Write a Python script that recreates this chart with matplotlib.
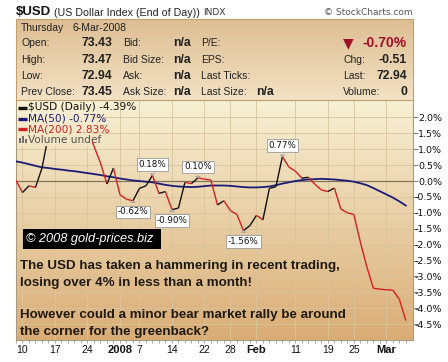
import numpy as np
import matplotlib.pyplot as plt
from matplotlib.collections import LineCollection
from matplotlib.patches import Rectangle

# trading-day index, 0 = 10-Dec-2007, 59 = 6-Mar-2008
days = list(range(-1, 60))
usd = [0.02, -0.36, -0.15, -0.20, 0.41, 1.45, 1.85, 1.70, 2.05, 1.90,
       1.80, 1.60, 1.10, 0.57, -0.09, 0.41, -0.43, -0.57, -0.62, -0.23,
       -0.15, 0.18, -0.39, -0.33, -0.90, -0.85, -0.04, -0.08, 0.10, 0.06,
       0.03, -0.75, -0.62, -0.93, -1.05, -1.56, -1.40, -1.08, -1.22, -0.23,
       -0.18, 0.77, 0.44, 0.31, 0.09, 0.12, -0.10, -0.28, -0.33, -0.22,
       -0.88, -1.00, -1.05, -1.92, -2.70, -3.37, -3.40, -3.42, -3.43, -3.72,
       -4.39]
ma50 = [0.62, 0.58, 0.53, 0.48, 0.43, 0.41, 0.38, 0.36, 0.33, 0.31,
        0.28, 0.25, 0.22, 0.19, 0.15, 0.12, 0.08, 0.05, 0.02, 0.00,
        -0.02, -0.04, -0.08, -0.12, -0.15, -0.17, -0.18, -0.19, -0.18, -0.16,
        -0.14, -0.14, -0.14, -0.15, -0.17, -0.19, -0.20, -0.20, -0.19, -0.17,
        -0.13, -0.08, -0.04, 0.00, 0.03, 0.05, 0.06, 0.07, 0.06, 0.05,
        0.03, 0.01, -0.02, -0.07, -0.13, -0.22, -0.32, -0.42, -0.52, -0.64,
        -0.77]
ma200_last = 2.83

tick_pos = [0, 5, 10, 15, 18, 23, 28, 32, 36, 42, 47, 51, 56]
tick_lab = ['10', '17', '24', '2008', '7', '14', '22', '28', 'Feb', '11', '19', '25', 'Mar']
bold_lab = ['2008', 'Feb', 'Mar']
y_ticks = [2.0, 1.5, 1.0, 0.5, 0.0, -0.5, -1.0, -1.5, -2.0, -2.5, -3.0, -3.5, -4.0, -4.5]
callouts = [17, 20, 23, 27, 34, 40]

quote_day = 'Thursday'
quote_date = '6-Mar-2008'
ohlc_labels = ['Open:', 'High:', 'Low:', 'Prev Close:']
ohlc_values = [73.43, 73.47, 72.94, 73.45]
bid_labels = ['Bid:', 'Bid Size:', 'Ask:', 'Ask Size:']
bid_values = ['n/a', 'n/a', 'n/a', 'n/a']
misc_labels = ['P/E:', 'EPS:', 'Last Ticks:', 'Last Size:']
misc_values = ['', '', '', 'n/a']
pct_chg = -0.70
side_labels = ['Chg:', 'Last:', 'Volume:']
side_values = ['-0.51', '72.94', '0']

comment = ['The USD has taken a hammering in recent trading,',
           'losing over 4% in less than a month!',
           '',
           'However could a minor bear market rally be around',
           'the corner for the greenback?']

W, H = 448, 362
fig = plt.figure(figsize=(W / 100, H / 100), dpi=100)
fig.patch.set_facecolor('white')


def box(x0, y0, x1, y1):
    return [x0 / W, 1 - y1 / H, (x1 - x0) / W, (y1 - y0) / H]


def vgrad(top, bottom, n=256):
    t = np.linspace(0, 1, n).reshape(-1, 1, 1)
    top = np.array(top).reshape(1, 1, 3)
    bottom = np.array(bottom).reshape(1, 1, 3)
    return top + (bottom - top) * t


# ---- price panel
PX0, PY0, PX1, PY1 = 16, 100, 413, 340
ax = fig.add_axes(box(PX0, PY0, PX1, PY1))
xl = (-0.92, 60.1)
yl = (-5.0, 2.55)
bg = vgrad((0.972, 0.945, 0.835), (0.855, 0.675, 0.46))
ax.imshow(bg, extent=[xl[0], xl[1], yl[0], yl[1]], aspect='auto', origin='upper', zorder=0)

segs = [[(days[k], usd[k]), (days[k + 1], usd[k + 1])] for k in range(len(days) - 1)]
cols = ['#111111' if usd[k + 1] >= usd[k] else '#d42020' for k in range(len(days) - 1)]
ax.add_collection(LineCollection(segs, colors=cols, linewidths=1.0, zorder=3))
ax.plot(days, ma50, color='#1c1c78', lw=1.3, zorder=2.8)
ax.axhline(0, color='#857558', lw=0.9, zorder=2)

# legend area hides the lines under it
cover = ax.imshow(bg, extent=[xl[0], xl[1], yl[0], yl[1]], aspect='auto', origin='upper', zorder=4)
cover.set_clip_path(Rectangle(((16 - PX0) / 397, (PY1 - 146) / 240), (91 - PX0) / 397, (146 - PY0) / 240,
                              transform=ax.transAxes))

for d in callouts:
    v = usd[days.index(d)]
    up = v > usd[days.index(d) - 1]
    ax.annotate(f'{v:.2f}%', xy=(d, v), xytext=(0, 11 if up else -11), textcoords='offset pixels',
                ha='center', va='center', fontsize=6.3, color='#111111', zorder=6,
                bbox=dict(boxstyle='square,pad=0.2', fc='white', ec='#999999', lw=0.6),
                arrowprops=dict(arrowstyle='wedge,tail_width=0.5,shrink_factor=0.5',
                                fc='white', ec='#999999', lw=0.6, shrinkB=1.5))

ax.set_xlim(*xl)
ax.set_ylim(*yl)
ax.set_xticks(tick_pos)
ax.set_xticklabels(tick_lab)
for lbl in ax.get_xticklabels():
    lbl.set_family('Liberation Sans')
    if lbl.get_text() in bold_lab:
        lbl.set_fontweight('bold')
        lbl.set_fontsize(8)
    else:
        lbl.set_fontsize(7.5)
ax.set_xticks(days, minor=True)
ax.tick_params(axis='x', which='both', length=2, width=0.5, color='#888888', pad=1.5, labelcolor='#111111')
ax.yaxis.tick_right()
ax.set_yticks(y_ticks)
ax.set_yticklabels([f'{t:.1f}%' for t in y_ticks])
ax.tick_params(axis='y', length=3.5, width=0.6, color='#666666', labelsize=6.8, pad=17.4, labelcolor='#111111')
for lbl in ax.get_yticklabels():
    lbl.set_horizontalalignment('right')
ax.grid(True, which='major', color='#d9c59c', lw=0.6)
for s in ax.spines.values():
    s.set_color('#a89a7c')
    s.set_linewidth(0.8)

# ---- overlay in pixel coordinates
ov = fig.add_axes([0, 0, 1, 1])
ov.patch.set_alpha(0)
ov.axis('off')

sans = 'Liberation Sans'
ov.text(16, 12, '$USD', fontsize=9.5, fontweight='bold', family=sans, va='center', color='#111111')
ov.text(53.5, 12.5, '(US Dollar Index (End of Day))', fontsize=7.7, family=sans, va='center', color='#222222')
ov.text(203, 12.5, 'INDX', fontsize=6.5, va='center', color='#333333')
ov.text(413, 12.5, '\u00a9 StockCharts.com', fontsize=6.5, va='center', ha='right', color='#555555')

info = vgrad((0.87, 0.745, 0.575), (0.95, 0.885, 0.77))
ov.imshow(info, extent=[16, 413, 100, 19], aspect='auto', origin='upper', zorder=0)
ov.add_patch(Rectangle((16, 19), 397, 81, fill=False, ec='#c2a070', lw=0.8, zorder=1))

ov.text(21, 28, quote_day, fontsize=7.5, family=sans, va='center', color='#222222')
ov.text(72.5, 28, quote_date, fontsize=7.5, family=sans, va='center', color='#222222')
rows = [43.3, 60.3, 76.3, 91.7]
for k, y in enumerate(rows):
    ov.text(21, y, ohlc_labels[k], fontsize=7.5, family=sans, va='center', color='#222222')
    ov.text(112, y, f'{ohlc_values[k]:.2f}', fontsize=8.8, fontweight='bold', family=sans,
            va='center', ha='right', color='#222222')
    ov.text(123, y, bid_labels[k], fontsize=7.5, family=sans, va='center', color='#222222')
    ov.text(191, y, bid_values[k], fontsize=8.8, fontweight='bold', family=sans,
            va='center', ha='right', color='#222222')
    ov.text(201, y, misc_labels[k], fontsize=7.5, family=sans, va='center', color='#222222')
    if misc_values[k]:
        ov.text(256, y, misc_values[k], fontsize=8.8, fontweight='bold', family=sans,
                va='center', color='#222222')
ov.text(343, rows[0], '\u25bc', fontsize=10, va='center', color='#a01028')
ov.text(407, rows[0], f'{pct_chg:.2f}%', fontsize=10, fontweight='bold', family=sans,
        va='center', ha='right', color='#a01028')
for k in range(3):
    ov.text(343, rows[k + 1], side_labels[k], fontsize=7.5, family=sans, va='center', color='#222222')
    ov.text(407, rows[k + 1], side_values[k], fontsize=8.8, fontweight='bold', family=sans,
            va='center', ha='right', color='#222222')

# legend
leg = [(f'$USD (Daily) {usd[-1]:.2f}%', '#111111', 107.5),
       (f'MA(50) {ma50[-1]:.2f}%', '#1c1c78', 118.5),
       (f'MA(200) {ma200_last:.2f}%', '#d42020', 129.3)]
for txt, c, y in leg:
    ov.plot([18, 27], [y, y], color=c, lw=2.4, solid_capstyle='butt')
    ov.text(28, y, txt, fontsize=7.6, va='center', color=c)
for bx, bh in [(19, 5), (22, 7), (25, 4)]:
    ov.add_patch(Rectangle((bx, 143 - bh), 2, bh, color='#707070', lw=0))
ov.text(28, 140, 'Volume undef', fontsize=7.6, va='center', color='#555555')

# watermark and comment
ov.add_patch(Rectangle((22.5, 229), 138.5, 19.5, color='black', lw=0, zorder=3))
ov.text(26.5, 238.8, '\u00a9 2008 gold-prices.biz', fontsize=9.2, style='italic', family=sans,
        va='center', color='white', zorder=4)
for txt, y in zip(comment, [266.5, 283.3, 299.5, 315, 331.7]):
    ov.text(20, y, txt, fontsize=9.6, fontweight='bold', family=sans, va='center', color='#1f1a12')

ov.set_xlim(0, W)
ov.set_ylim(H, 0)

fig.savefig('out.png', dpi=100)
